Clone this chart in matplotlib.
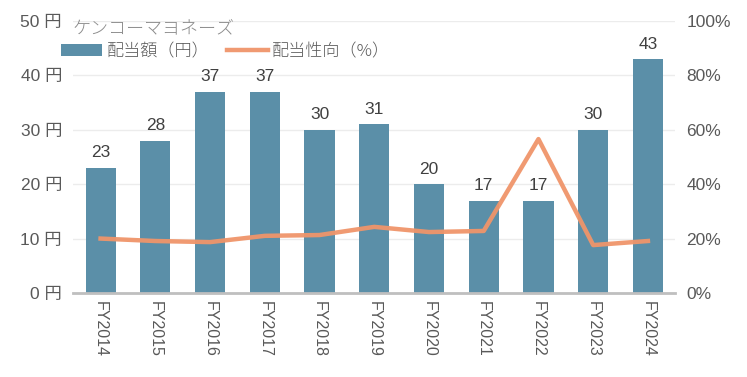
import numpy as np
import matplotlib.pyplot as plt
from matplotlib.ticker import FuncFormatter

plt.rcParams['font.family'] = ['Liberation Sans', 'Noto Sans CJK JP', 'DejaVu Sans']

years = ["FY2014", "FY2015", "FY2016", "FY2017", "FY2018", "FY2019",
         "FY2020", "FY2021", "FY2022", "FY2023", "FY2024"]
dividend = [23, 28, 37, 37, 30, 31, 20, 17, 17, 30, 43]
payout = [20.0, 19.1, 18.7, 21.0, 21.3, 24.3, 22.4, 22.8, 56.6, 17.6, 19.1]

bar_color = "#5b8fa8"
line_color = "#f0956a"
text_color = "#595959"

fig = plt.figure(figsize=(7.47, 3.77), dpi=100)
ax = fig.add_axes([0.098, 0.223, 0.806, 0.721])
ax2 = ax.twinx()

x = np.arange(len(years))
bars = ax.bar(x, dividend, width=0.55, color=bar_color, zorder=2, label="配当額（円）")
for xi, v in zip(x, dividend):
    ax.text(xi, v + 1.4, str(v), ha="center", va="bottom", fontsize=12.5, color="#404040")

ln, = ax2.plot(x, payout, color=line_color, lw=3.2, alpha=0.95, zorder=3, label="配当性向（%）")

ax.set_xlim(-0.5, len(years) - 0.5)
ax.set_ylim(0, 50)
ax.set_yticks(range(0, 51, 10))
ax.yaxis.set_major_formatter(FuncFormatter(lambda v, p: f"{int(v)} 円"))
ax2.set_ylim(0, 100)
ax2.set_yticks(range(0, 101, 20))
ax2.yaxis.set_major_formatter(FuncFormatter(lambda v, p: f"{int(v)}%"))

ax.set_xticks(x)
ax.set_xticklabels(years, rotation=-90, fontsize=11.5, color=text_color)
ax.grid(axis="y", color="#ececec", lw=1, zorder=0)

for a in (ax, ax2):
    for s in ["top", "left", "right", "bottom"]:
        a.spines[s].set_visible(False)
    a.tick_params(length=0, labelsize=12.5, labelcolor=text_color)
ax.spines["bottom"].set_visible(True)
ax.spines["bottom"].set_color("#bfbfbf")
ax.spines["bottom"].set_linewidth(2)
ax.spines["bottom"].set_zorder(4)
ax.tick_params(axis="x", pad=6, labelsize=11.5)
ax.tick_params(axis="y", pad=8)
ax2.tick_params(axis="y", pad=8)

ax.set_zorder(ax2.get_zorder() - 1)
ax2.patch.set_visible(False)
ax.patch.set_visible(True)

fig.text(0.0964, 0.926, "ケンコーマヨネーズ", fontsize=13, color="#8c8c8c", va="center",
         family=['Noto Sans CJK JP'], fontweight="light")
ax2.legend([bars, ln], ["配当額（円）", "配当性向（%）"], loc="upper left",
           bbox_to_anchor=(-0.045, 0.975), ncol=2, frameon=False,
           labelcolor=text_color, handlelength=2.4, handletextpad=0.25, columnspacing=1.0,
           prop={'family': ['Noto Sans CJK JP'], 'weight': 'light', 'size': 12.3})

fig.savefig("out.png", dpi=100)
